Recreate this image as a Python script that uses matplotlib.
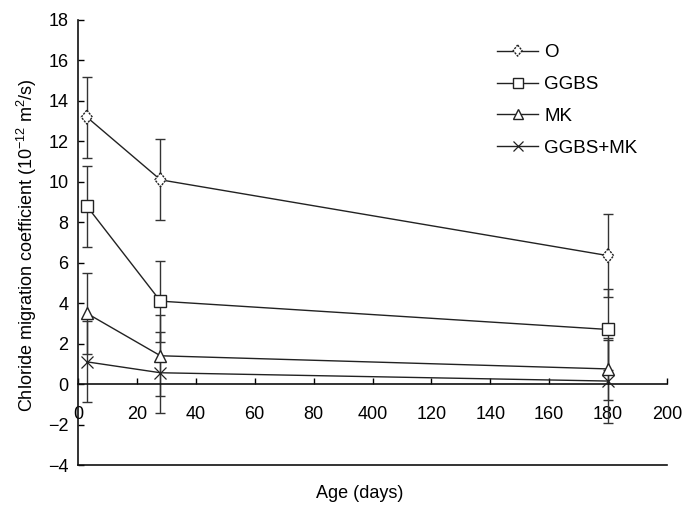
import matplotlib
matplotlib.use("Agg")
import matplotlib.pyplot as plt
from matplotlib.path import Path
from matplotlib.legend_handler import HandlerTuple

plt.rcParams['font.family'] = ['Liberation Sans', 'DejaVu Sans']
plt.rcParams['font.size'] = 13
plt.rcParams['mathtext.fontset'] = 'custom'
plt.rcParams['mathtext.rm'] = 'Liberation Sans'
plt.rcParams['mathtext.it'] = 'Liberation Sans:italic'
plt.rcParams['mathtext.bf'] = 'Liberation Sans:bold'

# Test age (days)
days = [3, 28, 180]

# Chloride migration coefficient (1e-12 m2/s) and standard deviation
o_mean = [13.2, 10.1, 6.35]
o_err = [2.0, 2.0, 2.05]
ggbs_mean = [8.8, 4.1, 2.7]
ggbs_err = [2.0, 2.0, 2.0]
mk_mean = [3.5, 1.4, 0.75]
mk_err = [2.0, 2.0, 1.55]
gm_mean = [1.1, 0.56, 0.15]
gm_err = [2.0, 2.0, 2.05]

series_names = ['O', 'GGBS', 'MK', 'GGBS+MK']

x_ticks = [0, 20, 40, 60, 80, 100, 120, 140, 160, 180, 200]
x_tick_labels = ['0', '20', '40', '60', '80', '400', '120', '140', '160', '180', '200']
y_ticks = [-4, -2, 0, 2, 4, 6, 8, 10, 12, 14, 16, 18]

line_color = '#222222'
err_color = '#333333'

# slightly narrow diamond for the control mix
diamond = Path([(0, 1), (0.8, 0), (0, -1), (-0.8, 0), (0, 1)],
               [Path.MOVETO, Path.LINETO, Path.LINETO, Path.LINETO, Path.CLOSEPOLY])

fig = plt.figure(figsize=(6.95, 5.09), dpi=100)
ax = fig.add_axes([78 / 695, 44 / 509, 589 / 695, 445 / 509])

ax.set_xlim(0, 200)
ax.set_ylim(-4, 18)

# error bars first so that the white markers sit on top of them
for mean, err in [(o_mean, o_err), (ggbs_mean, ggbs_err), (mk_mean, mk_err), (gm_mean, gm_err)]:
    ax.errorbar(days, mean, yerr=err, fmt='none', ecolor=err_color, elinewidth=1.0,
                capsize=3.5, capthick=1.0, zorder=2)

# O: line plus diamond markers with a dotted outline
l_o, = ax.plot(days, o_mean, color=line_color, lw=1.0, zorder=3)
sc_o = ax.scatter(days, o_mean, marker=diamond, s=10 ** 2, facecolor='white',
                  edgecolor='#222222', linewidths=1.0, linestyle=(0, (1.6, 0.8)), zorder=4)

l_g, = ax.plot(days, ggbs_mean, color=line_color, lw=1.0, marker='s', markersize=8.5,
               markerfacecolor='white', markeredgecolor='#222222', markeredgewidth=1.0, zorder=4)
l_m, = ax.plot(days, mk_mean, color=line_color, lw=1.0, marker='^', markersize=9,
               markerfacecolor='white', markeredgecolor='#222222', markeredgewidth=1.0, zorder=4)
l_gm, = ax.plot(days, gm_mean, color=line_color, lw=1.0, marker='x', markersize=9,
                markeredgecolor='#222222', markeredgewidth=0.9, zorder=4)

# axes: x axis crosses at y = 0, a closing line at y = -4
ax.spines['right'].set_visible(False)
ax.spines['bottom'].set_position(('data', 0))
ax.spines['top'].set_position(('data', -4))
for sp in ['left', 'bottom', 'top']:
    ax.spines[sp].set_linewidth(1.2)
    ax.spines[sp].set_color('#111111')

ax.set_xticks(x_ticks)
ax.set_xticklabels(x_tick_labels)
ax.set_yticks(y_ticks)
ax.tick_params(axis='x', direction='in', length=4, width=1.0, pad=16, labelsize=13,
               top=False, bottom=True)
ax.tick_params(axis='y', direction='in', length=4, width=1.0, pad=7, labelsize=13)

ax.set_xlabel('Age (days)', fontsize=13)
ax.xaxis.set_label_coords((360 - 78) / 589, -(493 - 465) / 445)
ax.xaxis.label.set_va('center')
ax.set_ylabel('Chloride migration coefficient (10$^{\u221212}$ m$^{2}$/s)', fontsize=13)
ax.yaxis.set_label_coords((27 - 78) / 589, (465 - 245) / 445)
ax.yaxis.label.set_va('center')

leg = ax.legend([(l_o, sc_o), l_g, l_m, l_gm], series_names,
                handler_map={tuple: HandlerTuple(ndivide=1)},
                loc='upper left', bbox_to_anchor=((497 - 78) / 589, (465 - 44) / 445),
                frameon=False, fontsize=13.5, handlelength=2.2, handletextpad=0.33,
                labelspacing=0.79, borderpad=0, borderaxespad=0,
                markerscale=0.8, scatterpoints=1, scatteryoffsets=[0.5])

fig.savefig('out.png', dpi=100)
